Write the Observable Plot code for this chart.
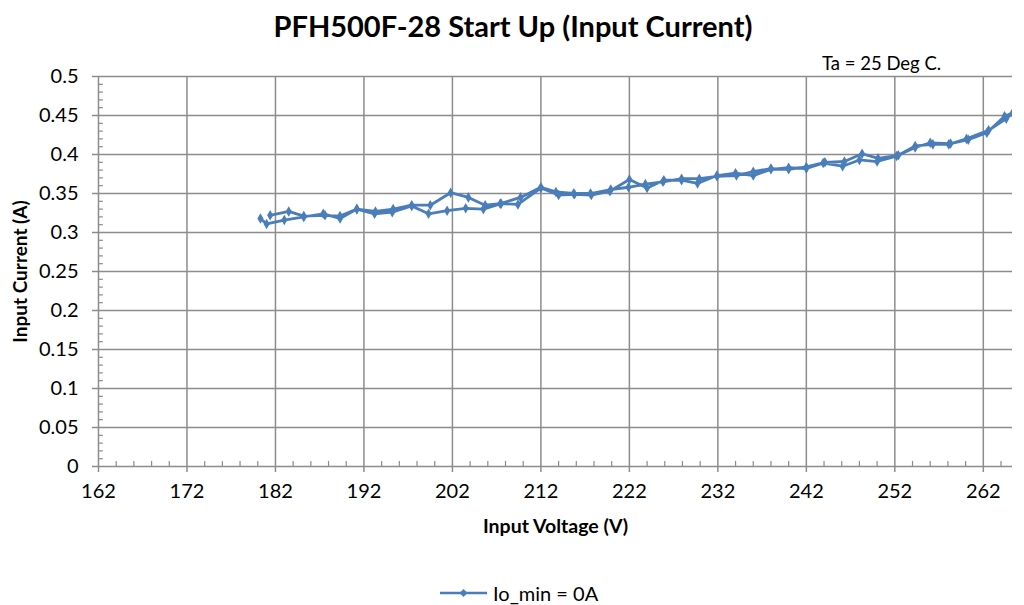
<!DOCTYPE html>
<html>
<head>
<meta charset="utf-8">
<script src="https://cdn.jsdelivr.net/npm/d3@7"></script>
<script src="https://cdn.jsdelivr.net/npm/@observablehq/plot@0.6"></script>
<style>
  html, body { margin: 0; padding: 0; background: #fff; }
  body { width: 1024px; height: 605px; position: relative; overflow: hidden; font-family: Lato, "Liberation Sans", Arial, sans-serif; }
  #title { position: absolute; left: 0; width: 1026px; top: 8px; text-align: center; font-weight: bold; font-size: 29px; color: #000; }
  #note { position: absolute; left: 822px; top: 52px; font-size: 18.5px; color: #000; }
  #legend { position: absolute; left: 440px; top: 581px; font-size: 20px; color: #000; display: flex; align-items: center; }
  #chart { position: absolute; left: 0; top: 0; }
</style>
</head>
<body>
<div id="chart"></div>
<div id="title">PFH500F-28 Start Up (Input Current)</div>
<div id="note">Ta = 25 Deg C.</div>
<div id="legend"><svg width="50" height="24"><line x1="0" y1="12" x2="47" y2="12" stroke="#4a7ebb" stroke-width="2.5"/><path d="M23.5,8 L27.5,12 L23.5,16 L19.5,12 Z" fill="#4a7ebb"/></svg><span style="margin-left:3px">Io_min = 0A</span></div>
<script>
// Series: voltage ramp up, then back down (one series, drawn in path order)
const voltsUp = [180.3, 181.0, 183.0, 185.2, 187.4, 189.3, 191.2, 193.2, 195.2, 197.4, 199.3, 201.4, 203.5, 205.5, 207.5, 209.4, 212.0, 214.0, 215.8, 217.7, 219.8, 222.0, 224.0, 225.9, 227.9, 229.7, 231.9, 234.0, 236.0, 238.0, 240.0, 242.0, 243.9, 246.1, 248.0, 250.0, 252.2, 254.3, 256.0, 258.3, 260.3, 262.4, 264.4, 265.3];
const currentUp = [0.318, 0.311, 0.316, 0.320, 0.324, 0.318, 0.330, 0.324, 0.326, 0.334, 0.324, 0.328, 0.331, 0.330, 0.337, 0.336, 0.357, 0.348, 0.349, 0.348, 0.353, 0.368, 0.357, 0.367, 0.367, 0.363, 0.373, 0.376, 0.373, 0.381, 0.383, 0.382, 0.389, 0.385, 0.393, 0.391, 0.398, 0.409, 0.415, 0.414, 0.419, 0.428, 0.449, 0.453];
const voltsDown = [264.6, 262.6, 260.1, 258.1, 256.3, 254.3, 252.4, 250.1, 248.3, 246.3, 244.1, 242.0, 240.0, 238.0, 236.0, 234.1, 231.9, 229.9, 227.9, 225.8, 223.8, 221.9, 219.9, 217.6, 215.7, 213.7, 212.0, 209.7, 207.4, 205.7, 203.8, 201.8, 199.5, 197.4, 195.3, 193.3, 191.2, 189.3, 187.6, 185.2, 183.5, 181.4];
const currentDown = [0.446, 0.431, 0.420, 0.413, 0.413, 0.411, 0.399, 0.395, 0.401, 0.391, 0.390, 0.384, 0.381, 0.382, 0.378, 0.373, 0.372, 0.369, 0.369, 0.365, 0.362, 0.358, 0.355, 0.350, 0.350, 0.352, 0.358, 0.345, 0.337, 0.335, 0.345, 0.351, 0.335, 0.335, 0.330, 0.327, 0.330, 0.321, 0.322, 0.321, 0.327, 0.322];

const xTicks = [162, 172, 182, 192, 202, 212, 222, 232, 242, 252, 262];
const yTicks = [0, 0.05, 0.1, 0.15, 0.2, 0.25, 0.3, 0.35, 0.4, 0.45, 0.5];
const xDomain = [162, 265.3];
const yDomain = [0, 0.5];

const data = [
  ...voltsUp.map((v, k) => ({v, i: currentUp[k]})),
  ...voltsDown.map((v, k) => ({v, i: currentDown[k]}))
];
const xMinor = d3.range(xDomain[0], xDomain[1], 2).filter(v => !xTicks.includes(v));
const yMinor = d3.range(0, 0.5, 0.01).map(v => +v.toFixed(2)).filter(v => !yTicks.includes(v));

const grid = "#8c8c8c";
const blue = "#4a7ebb";

const chart = Plot.plot({
  width: 1024,
  height: 605,
  marginLeft: 98,
  marginRight: 12,
  marginTop: 76,
  marginBottom: 139,
  style: {fontFamily: "Lato, 'Liberation Sans', Arial, sans-serif", background: "transparent"},
  x: {domain: xDomain},
  y: {domain: yDomain},
  marks: [
    Plot.ruleX(xTicks.slice(1), {stroke: grid, strokeWidth: 1.5}),
    Plot.ruleY(yTicks.slice(1), {stroke: grid, strokeWidth: 1.5}),
    Plot.ruleX(xMinor, {y1: 0, y2: 0.0065, stroke: grid, strokeWidth: 1.2}),
    Plot.ruleY(yMinor, {x1: 162, x2: 162.55, stroke: grid, strokeWidth: 1.2}),
    Plot.ruleX([162], {stroke: grid, strokeWidth: 1.5}),
    Plot.ruleY([0], {stroke: grid, strokeWidth: 1.5}),
    Plot.axisX({ticks: xTicks, tickSize: 6, tickPadding: 11, tickFormat: d => String(d), fontSize: 20, stroke: grid, strokeWidth: 1.5, color: "#000", label: null}),
    Plot.axisY({ticks: yTicks, tickSize: 6, tickPadding: 14, tickFormat: d => String(+d.toFixed(2)), fontSize: 20, stroke: grid, strokeWidth: 1.5, color: "#000", label: null}),
    Plot.text(["Input Voltage (V)"], {frameAnchor: "bottom", dy: 66, fontSize: 19.5, fontWeight: "bold", fill: "#000"}),
    Plot.text(["Input Current (A)"], {frameAnchor: "left", textAnchor: "middle", dx: -78, rotate: -90, fontSize: 19, fontWeight: "bold", fill: "#000"}),
    Plot.line(data, {x: "v", y: "i", stroke: blue, strokeWidth: 2.8, clip: true}),
    Plot.dot(data, {x: "v", y: "i", symbol: "diamond", r: 3.2, fill: blue, clip: true})
  ]
});
document.getElementById("chart").appendChild(chart);
</script>
</body>
</html>
